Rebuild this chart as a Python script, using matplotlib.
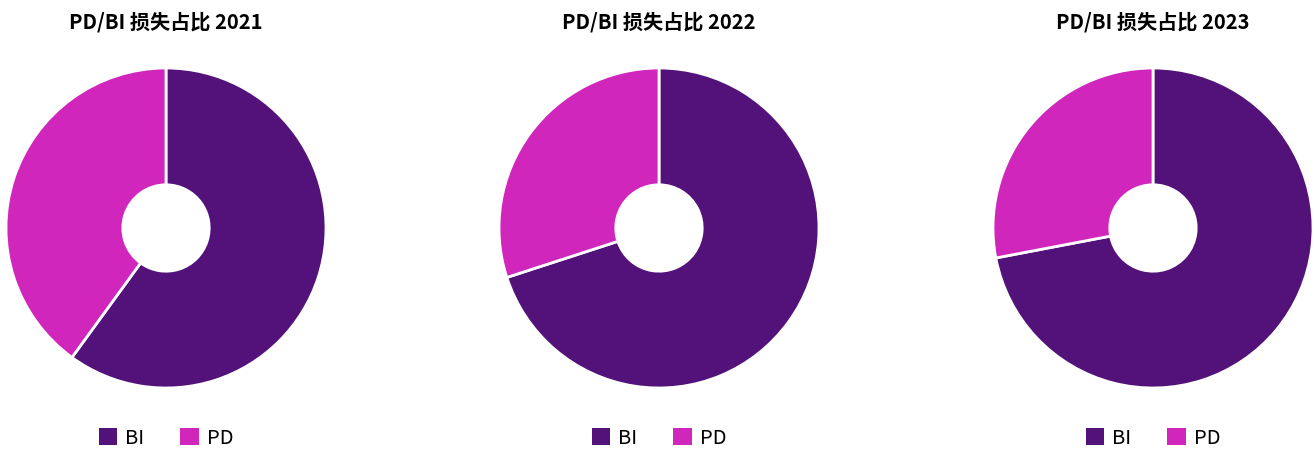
import matplotlib.pyplot as plt
from matplotlib.patches import Patch

plt.rcParams['font.family'] = ['Noto Sans CJK SC', 'DejaVu Sans']

years = ['2021', '2022', '2023']
labels = ['BI', 'PD']
bi_share = [60, 70, 72]
pd_share = [40, 30, 28]
colors = ['#52127A', '#D026BB']

W, H = 1314, 449
fig = plt.figure(figsize=(W / 100, H / 100), dpi=100)

centers_x = [166, 659, 1153]
cy, r = 228, 160

for i, year in enumerate(years):
    cx = centers_x[i]
    ax = fig.add_axes([(cx - r) / W, (H - cy - r) / H, 2 * r / W, 2 * r / H])
    ax.pie([bi_share[i], pd_share[i]], colors=colors, startangle=90, counterclock=False,
           radius=1, wedgeprops=dict(width=0.73, edgecolor='white', linewidth=2))
    ax.set_xlim(-1, 1)
    ax.set_ylim(-1, 1)
    ax.set_aspect('equal')
    ax.axis('off')

    # titles sit above each donut
    fig.text(cx / W, 1 - 22 / H, f'PD/BI 损失占比 {year}', ha='center', va='center',
             fontsize=14.5, fontweight='bold')

    handles = [Patch(facecolor=c, edgecolor='none') for c in colors]
    fig.legend(handles, labels, loc='center', bbox_to_anchor=(cx / W, 1 - 438 / H),
               ncol=2, frameon=False, prop=dict(size=14.5),
               handlelength=0.9, handleheight=0.9, handletextpad=0.4, columnspacing=1.8)

fig.savefig('out.png', dpi=100)
